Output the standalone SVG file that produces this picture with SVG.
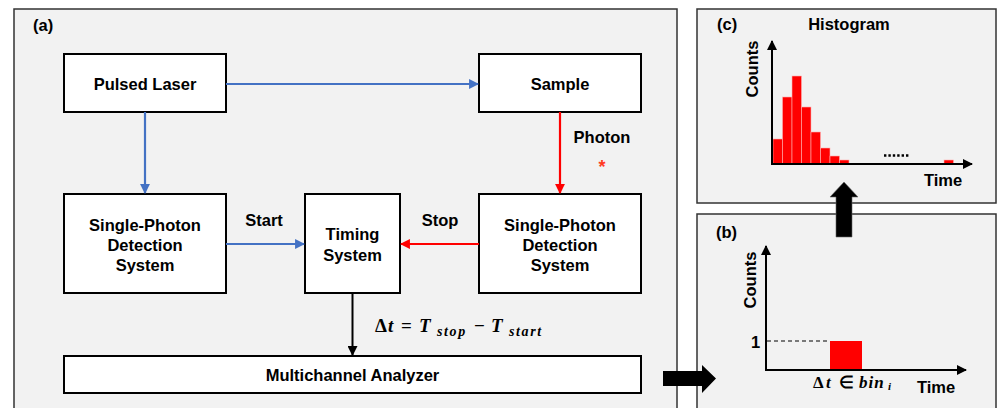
<svg xmlns="http://www.w3.org/2000/svg" width="997" height="408" viewBox="0 0 997 408">
  <defs>
    <style>
      .panel { fill: #f2f2f2; stroke: #333; stroke-width: 1.5; }
      .box { fill: #fff; stroke: #000; stroke-width: 2; }
      .lbl { font-family: "Liberation Sans", Arial, sans-serif; font-weight: bold; font-size: 16.5px; fill: #000; }
      .mid { text-anchor: middle; }
      .math { font-family: "Liberation Serif", "Times New Roman", serif; font-weight: bold; font-style: italic; fill: #000; }
      .up { font-style: normal; }
      .sub { font-size: 14px; letter-spacing: 1.6px; }
      .blue { stroke: #4472c4; stroke-width: 2.2; fill: none; }
      .red { stroke: #ff0000; stroke-width: 2.2; fill: none; }
      .blk { stroke: #000; stroke-width: 2; fill: none; }
      .bar { fill: #ff0000; stroke: #ffb0b0; stroke-width: 0.6; }
    </style>
    <marker id="ahBlue" viewBox="0 0 10 10" refX="9" refY="5" markerWidth="4.5" markerHeight="4.5" orient="auto" markerUnits="strokeWidth">
      <path d="M0,0 L10,5 L0,10 z" fill="#4472c4"/>
    </marker>
    <marker id="ahRed" viewBox="0 0 10 10" refX="9" refY="5" markerWidth="4.5" markerHeight="4.5" orient="auto" markerUnits="strokeWidth">
      <path d="M0,0 L10,5 L0,10 z" fill="#ff0000"/>
    </marker>
    <marker id="ahBlk" viewBox="0 0 10 10" refX="9" refY="5" markerWidth="5" markerHeight="5" orient="auto" markerUnits="strokeWidth">
      <path d="M0,0 L10,5 L0,10 z" fill="#000"/>
    </marker>
  </defs>

  <rect width="997" height="408" fill="#fff"/>

  <!-- panel (a): measurement chain -->
  <rect class="panel" x="14" y="9" width="663" height="410"/>
  <text class="lbl" x="33" y="31">(a)</text>

  <g id="pulsed-laser">
    <rect class="box" x="64" y="54" width="162" height="58"/>
    <text class="lbl mid" x="145" y="90">Pulsed Laser</text>
  </g>
  <g id="sample">
    <rect class="box" x="479" y="54" width="162" height="58"/>
    <text class="lbl mid" x="560" y="90">Sample</text>
  </g>
  <g id="spd-start">
    <rect class="box" x="64" y="194" width="162" height="99"/>
    <text class="lbl mid" x="145" y="231">Single-Photon</text>
    <text class="lbl mid" x="145" y="251">Detection</text>
    <text class="lbl mid" x="145" y="271">System</text>
  </g>
  <g id="timing">
    <rect class="box" x="305" y="194" width="95" height="99"/>
    <text class="lbl mid" x="352.5" y="240">Timing</text>
    <text class="lbl mid" x="352.5" y="261">System</text>
  </g>
  <g id="spd-stop">
    <rect class="box" x="479" y="194" width="162" height="99"/>
    <text class="lbl mid" x="560" y="231">Single-Photon</text>
    <text class="lbl mid" x="560" y="251">Detection</text>
    <text class="lbl mid" x="560" y="271">System</text>
  </g>
  <g id="mca">
    <rect class="box" x="64" y="356" width="577" height="37"/>
    <text class="lbl mid" x="352.5" y="381">Multichannel Analyzer</text>
  </g>

  <g id="connectors">
    <line class="blue" x1="226" y1="84" x2="478" y2="84" marker-end="url(#ahBlue)"/>
    <line class="blue" x1="145" y1="112" x2="145" y2="193" marker-end="url(#ahBlue)"/>
    <line class="blue" x1="226" y1="244" x2="304" y2="244" marker-end="url(#ahBlue)"/>
    <line class="red" x1="560" y1="112" x2="560" y2="193" marker-end="url(#ahRed)"/>
    <line class="red" x1="479" y1="244" x2="401" y2="244" marker-end="url(#ahRed)"/>
    <line class="blk" x1="352.5" y1="293" x2="352.5" y2="355" marker-end="url(#ahBlk)"/>
    <text class="lbl mid" x="264" y="226">Start</text>
    <text class="lbl mid" x="440" y="226">Stop</text>
    <text class="lbl mid" x="602" y="143">Photon</text>
    <text x="602" y="173" text-anchor="middle" font-family="Liberation Sans, Arial, sans-serif" font-weight="bold" font-size="18" fill="#ff3b1f">*</text>
    <text class="math" y="332" font-size="19"><tspan class="up" x="375">Δ</tspan><tspan x="388">t</tspan><tspan class="up" x="401">=</tspan><tspan x="419">T</tspan><tspan class="sub" x="437" dy="4">stop</tspan><tspan class="up" x="474" dy="-4">−</tspan><tspan x="491">T</tspan><tspan class="sub" x="509" dy="4">start</tspan></text>
  </g>

  <!-- panel (c): histogram -->
  <rect class="panel" x="697" y="9" width="299" height="194"/>
  <g id="histogram">
    <text class="lbl" x="717" y="30">(c)</text>
    <text class="lbl mid" x="849" y="30">Histogram</text>
    <text class="lbl mid" transform="translate(758,69) rotate(-90)">Counts</text>
    <rect class="bar" x="773" y="139" width="9.5" height="25"/>
    <rect class="bar" x="782.5" y="97" width="9.5" height="67"/>
    <rect class="bar" x="792" y="76" width="9.5" height="88"/>
    <rect class="bar" x="801.5" y="107" width="9.5" height="57"/>
    <rect class="bar" x="811" y="132" width="9.5" height="32"/>
    <rect class="bar" x="820.5" y="148" width="9.5" height="16"/>
    <rect class="bar" x="830" y="156" width="9.5" height="8"/>
    <rect class="bar" x="839.5" y="160" width="9.5" height="4"/>
    <rect class="bar" x="944" y="160" width="9.5" height="4"/>
    <line class="blk" x1="772" y1="165" x2="772" y2="41" marker-end="url(#ahBlk)"/>
    <line class="blk" x1="771" y1="164" x2="972" y2="164" marker-end="url(#ahBlk)"/>
    <line x1="884" y1="155.5" x2="910" y2="155.5" stroke="#000" stroke-width="2.4" stroke-dasharray="2.4 2"/>
    <text class="lbl" x="924" y="186">Time</text>
  </g>

  <!-- panel (b): single event -->
  <rect class="panel" x="697" y="214" width="299" height="205"/>
  <g id="single-count">
    <text class="lbl" x="716" y="238">(b)</text>
    <text class="lbl mid" transform="translate(756,280) rotate(-90)">Counts</text>
    <rect x="830" y="341" width="32" height="29" fill="#ff0000"/>
    <line x1="767" y1="341" x2="830" y2="341" stroke="#000" stroke-width="1.2" stroke-dasharray="4 3"/>
    <line class="blk" x1="766" y1="371" x2="766" y2="246" marker-end="url(#ahBlk)"/>
    <line class="blk" x1="765" y1="370" x2="966" y2="370" marker-end="url(#ahBlk)"/>
    <text class="lbl" x="751" y="348">1</text>
    <text class="math" y="388" font-size="17"><tspan class="up" x="813">Δ</tspan><tspan x="826">t</tspan><tspan class="up" x="839">∈</tspan><tspan x="859" letter-spacing="1">bin</tspan><tspan x="888" font-size="11" dy="2">i</tspan></text>
    <text class="lbl" x="917" y="393">Time</text>
  </g>

  <!-- block arrows between panels -->
  <g id="to-b">
    <path d="M663,371 L702,371 L702,365 L716,378.5 L702,393 L702,386 L663,386 z" fill="#000"/>
  </g>
  <g id="to-c">
    <path d="M836,237 L836,197 L830,197 L844,182 L858,197 L852,197 L852,237 z" fill="#000" stroke="#666" stroke-width="0.6"/>
  </g>
</svg>
